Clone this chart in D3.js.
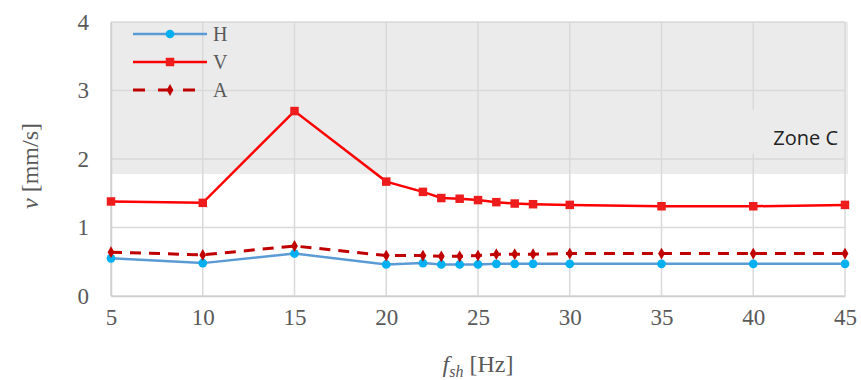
<!DOCTYPE html>
<html>
<head>
<meta charset="utf-8">
<script src="https://cdn.jsdelivr.net/npm/d3@7"></script>
<style>
  body { margin: 0; background: #fff; }
  svg text { font-family: "Liberation Serif", "Times New Roman", serif; fill: #595959; }
</style>
</head>
<body>
<svg id="chart"></svg>
<script>
// Chart data
let freqs = [5, 10, 15, 20, 22, 23, 24, 25, 26, 27, 28, 30, 35, 40, 45]
let hValues = [0.55, 0.48, 0.62, 0.46, 0.48, 0.46, 0.46, 0.46, 0.47, 0.47, 0.47, 0.47, 0.47, 0.47, 0.47]
let vValues = [1.38, 1.36, 2.70, 1.67, 1.52, 1.43, 1.42, 1.40, 1.37, 1.35, 1.34, 1.33, 1.31, 1.31, 1.33]
let aValues = [0.64, 0.60, 0.73, 0.59, 0.59, 0.58, 0.58, 0.59, 0.61, 0.61, 0.61, 0.62, 0.62, 0.62, 0.62]
let xTicks = [5, 10, 15, 20, 25, 30, 35, 40, 45]
let yTicks = [0, 1, 2, 3, 4]
let zoneLow = 1.78
let zoneLabel = 'Zone C'

let width = 861
let height = 380
let margin = {left: 111, right: 16, top: 22, bottom: 84}

let svg = d3.select('#chart')
            .attr('width', width)
            .attr('height', height)

let xScale = d3.scaleLinear()
                .domain([5, 45])
                .range([margin.left, width - margin.right])

let yScale = d3.scaleLinear()
                .domain([0, 4])
                .range([height - margin.bottom, margin.top])

// Zone C shading
svg.append('rect')
    .attr('x', xScale(5))
    .attr('y', yScale(4))
    .attr('width', xScale(45) - xScale(5) + 3)
    .attr('height', yScale(zoneLow) - yScale(4))
    .attr('fill', '#ebebeb')

// Gridlines
svg.append('g')
    .selectAll('line')
    .data(yTicks)
    .enter()
    .append('line')
    .attr('x1', xScale(5))
    .attr('x2', xScale(45))
    .attr('y1', d => yScale(d))
    .attr('y2', d => yScale(d))
    .attr('stroke', '#d9d9d9')
    .attr('stroke-width', 1.5)

svg.append('g')
    .selectAll('line')
    .data(xTicks)
    .enter()
    .append('line')
    .attr('x1', d => xScale(d))
    .attr('x2', d => xScale(d))
    .attr('y1', yScale(0))
    .attr('y2', yScale(4))
    .attr('stroke', '#d9d9d9')
    .attr('stroke-width', 1.5)

// Zone label box covers the grid
svg.append('rect')
    .attr('x', xScale(39.8))
    .attr('y', yScale(2.72))
    .attr('width', xScale(44.8) - xScale(39.8))
    .attr('height', yScale(2.08) - yScale(2.72))
    .attr('fill', '#ebebeb')

svg.append('text')
    .attr('x', 838)
    .attr('y', 145)
    .attr('text-anchor', 'end')
    .style('font-family', 'Open Sans, Noto Sans, sans-serif')
    .style('font-size', '20px')
    .style('fill', '#222')
    .text(zoneLabel)

// Axes
let xAxis = d3.axisBottom(xScale).tickValues(xTicks).tickSize(0).tickPadding(13).tickFormat(d3.format('d'))
let yAxis = d3.axisLeft(yScale).tickValues(yTicks).tickSize(0).tickPadding(22).tickFormat(d3.format('d'))

let gx = svg.append('g')
    .attr('transform', 'translate(0,' + yScale(0) + ')')
    .call(xAxis)
    .attr('font-family', null)
    .attr('font-size', 23)
gx.select('.domain').attr('stroke', '#cfcfcf').attr('stroke-width', 1.5)

let gy = svg.append('g')
    .attr('transform', 'translate(' + xScale(5) + ',0)')
    .call(yAxis)
    .attr('font-family', null)
    .attr('font-size', 23)
gy.select('.domain').attr('stroke', '#cfcfcf').attr('stroke-width', 1.5)

svg.selectAll('.tick text')
    .attr('fill', '#595959')
    .style('font-family', 'Liberation Serif, serif')

// Axis titles
let yTitle = svg.append('text')
    .attr('transform', 'translate(38,' + 166 + ') rotate(-90)')
    .attr('text-anchor', 'middle')
    .style('font-size', '24px')
yTitle.append('tspan').style('font-style', 'italic').text('v')
yTitle.append('tspan').text(' [mm/s]')

let xTitle = svg.append('text')
    .attr('x', xScale(25))
    .attr('y', 372)
    .attr('text-anchor', 'middle')
    .style('font-size', '24px')
xTitle.append('tspan').style('font-style', 'italic').text('f')
xTitle.append('tspan').style('font-style', 'italic').style('font-size', '16px').attr('dy', 5).text('sh')
xTitle.append('tspan').attr('dy', -5).text(' [Hz]')

// Series
let series = [
    {name: 'H', values: hValues, color: '#5b9bd5', marker: '#00b0f0', dash: null, shape: d3.symbolCircle, size: 60, width: 2.5},
    {name: 'V', values: vValues, color: '#ff0000', marker: '#ee1c1c', dash: null, shape: d3.symbolSquare, size: 72, width: 2.5},
    {name: 'A', values: aValues, color: '#c00000', marker: '#c00000', dash: '11,8', shape: d3.symbolDiamond, size: 40, width: 3}
]

let line = d3.line()
    .x(d => xScale(d[0]))
    .y(d => yScale(d[1]))

series.forEach(s => {
    let pts = freqs.map((f, i) => [f, s.values[i]])
    svg.append('path')
        .datum(pts)
        .attr('d', line)
        .attr('fill', 'none')
        .attr('stroke', s.color)
        .attr('stroke-width', s.width)
        .attr('stroke-dasharray', s.dash)

    svg.append('g')
        .selectAll('path')
        .data(pts)
        .enter()
        .append('path')
        .attr('d', d3.symbol().type(s.shape).size(s.size))
        .attr('transform', d => 'translate(' + xScale(d[0]) + ',' + yScale(d[1]) + ')')
        .attr('fill', s.marker)
})

// Legend
let legend = svg.append('g')
series.forEach((s, i) => {
    let y = 34 + i * 28
    legend.append('line')
        .attr('x1', 133).attr('x2', s.dash ? 201 : 207)
        .attr('y1', y).attr('y2', y)
        .attr('stroke', s.color)
        .attr('stroke-width', s.width)
        .attr('stroke-dasharray', s.dash ? '12,13' : null)
    legend.append('path')
        .attr('d', d3.symbol().type(s.shape).size(s.size))
        .attr('transform', 'translate(170,' + y + ')')
        .attr('fill', s.marker)
    legend.append('text')
        .attr('x', 213)
        .attr('y', y + 7)
        .style('font-size', '20px')
        .text(s.name)
})
</script>
</body>
</html>
